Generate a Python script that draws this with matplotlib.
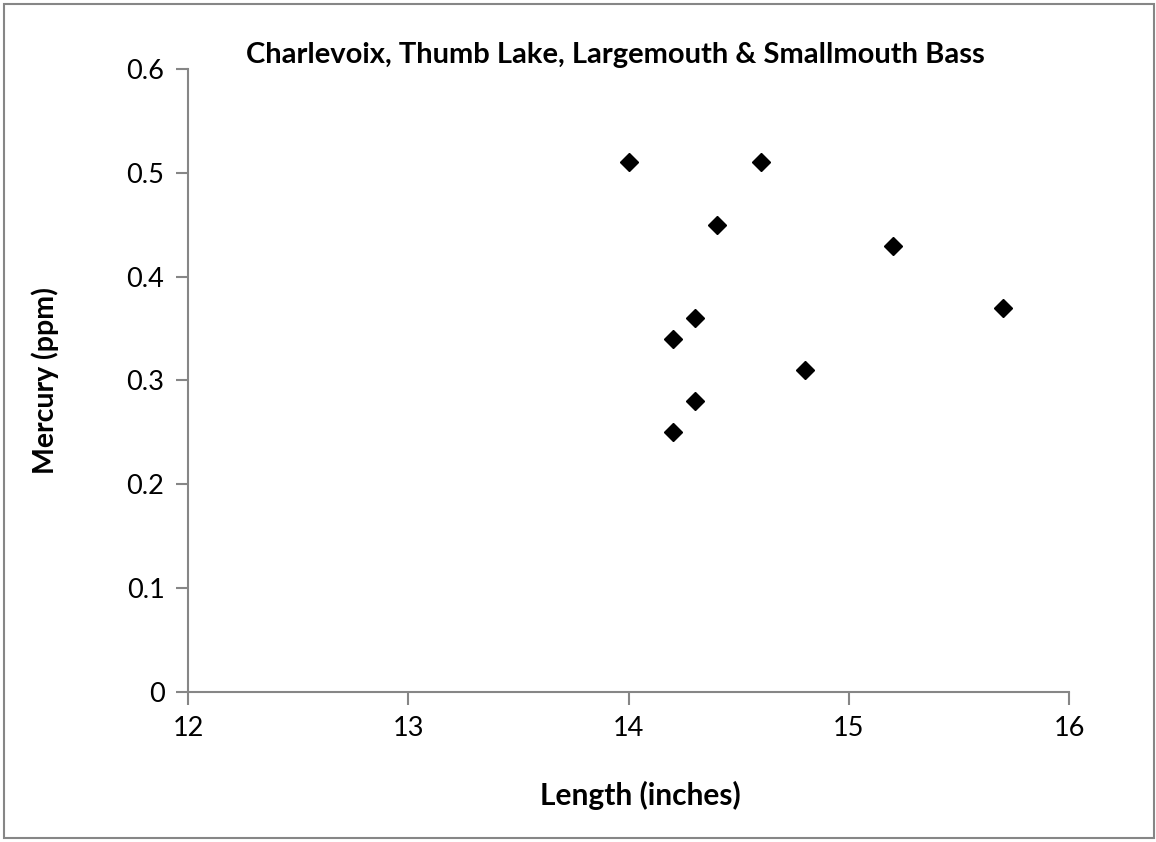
import numpy as np
import matplotlib.pyplot as plt
from matplotlib.patches import Rectangle

# Mercury vs length for bass from Thumb Lake (Charlevoix)

length_in = [14.0, 14.2, 14.2, 14.3, 14.3, 14.4, 14.6, 14.8, 15.2, 15.7]
mercury_ppm = [0.51, 0.34, 0.25, 0.36, 0.28, 0.45, 0.51, 0.31, 0.43, 0.37]

x_ticks = [12, 13, 14, 15, 16]
y_ticks = [0, 0.1, 0.2, 0.3, 0.4, 0.5, 0.6]
y_tick_labels = ['0', '0.1', '0.2', '0.3', '0.4', '0.5', '0.6']

plt.rcParams['font.family'] = ['Lato', 'DejaVu Sans']
axis_gray = '#868686'

fig = plt.figure(figsize=(11.56, 8.42), dpi=100)
ax = fig.add_axes([188 / 1156, 1 - 692 / 842, (1069 - 188) / 1156, (692 - 69) / 842])

ax.plot(length_in, mercury_ppm, linestyle='none', marker='D',
        color='black', markersize=9, clip_on=False)

ax.set_xlim(12, 16)
ax.set_ylim(0, 0.6)
ax.set_xticks(x_ticks)
ax.set_yticks(y_ticks)
ax.set_yticklabels(y_tick_labels)

for side in ['top', 'right']:
    ax.spines[side].set_visible(False)
for side in ['left', 'bottom']:
    ax.spines[side].set_color(axis_gray)
    ax.spines[side].set_linewidth(1.5)
ax.tick_params(axis='both', direction='out', length=9, width=1.5,
               color=axis_gray, labelsize=19.5, pad=8)

fig.text(615 / 1156, 1 - 55 / 842, 'Charlevoix, Thumb Lake, Largemouth & Smallmouth Bass',
         ha='center', va='center', fontsize=21, fontweight='bold')
fig.text(640 / 1156, 1 - 795 / 842, 'Length (inches)',
         ha='center', va='center', fontsize=21.5, fontweight='bold')
fig.text(45 / 1156, 1 - 381 / 842, 'Mercury (ppm)', rotation=90,
         ha='center', va='center', fontsize=20.5, fontweight='bold')

# chart border
fig.patches.append(Rectangle((4 / 1156, 4 / 842), 1150 / 1156, 834 / 842,
                             transform=fig.transFigure, fill=False,
                             edgecolor=axis_gray, linewidth=1.5))

fig.savefig('out.png', dpi=100)
